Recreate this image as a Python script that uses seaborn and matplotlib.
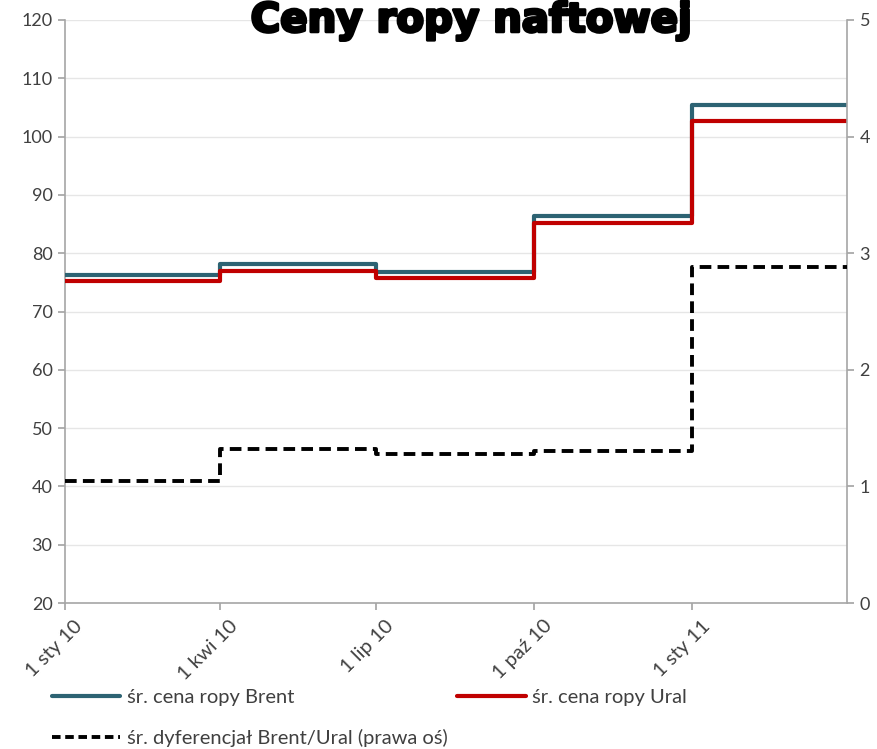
import matplotlib
matplotlib.use("Agg")
import matplotlib.pyplot as plt
import matplotlib.patheffects as pe
import matplotlib.transforms as mtrans
from matplotlib.lines import Line2D
import seaborn as sns
import pandas as pd
import numpy as np

quarters = ["2010-01-01", "2010-04-01", "2010-07-01", "2010-10-01", "2011-01-01", "2011-04-01"]
brent = [76.3, 78.2, 76.7, 86.4, 105.4, 105.4]
ural = [75.2, 77.0, 75.7, 85.2, 102.6, 102.6]
diff = [1.05, 1.32, 1.28, 1.30, 2.88, 2.88]
tick_labels = ["1 sty 10", "1 kwi 10", "1 lip 10", "1 paź 10", "1 sty 11"]

df = pd.DataFrame({"date": pd.to_datetime(quarters), "brent": brent, "ural": ural, "diff": diff})

sns.set_theme(style="white")
plt.rcParams["font.family"] = ["Lato", "DejaVu Sans"]

fig = plt.figure(figsize=(8.77, 7.49), dpi=100)
ax = fig.add_axes([65 / 877, 1 - 603 / 749, (847 - 65) / 877, (603 - 20) / 749])
ax2 = ax.twinx()

c_brent = "#2D6373"
c_ural = "#C00000"

sns.lineplot(data=df, x="date", y="brent", ax=ax, color=c_brent, lw=3, drawstyle="steps-post", zorder=3)
sns.lineplot(data=df, x="date", y="ural", ax=ax, color=c_ural, lw=3, drawstyle="steps-post", zorder=4)
sns.lineplot(data=df, x="date", y="diff", ax=ax2, color="black", lw=2.8, drawstyle="steps-post",
             linestyle=(0, (3, 1.6)), zorder=5)

ax.set_xlim(df["date"].iloc[0], df["date"].iloc[-1])
ax.set_ylim(20, 120)
ax.set_yticks(np.arange(20, 121, 10))
ax2.set_ylim(0, 5)
ax2.set_yticks(np.arange(0, 6, 1))

ax.set_xlabel("")
ax.set_ylabel("")
ax2.set_ylabel("")

ax.yaxis.grid(True, color="#E6E6E6", lw=1)
ax.set_axisbelow(True)

for a in (ax, ax2):
    for s in a.spines.values():
        s.set_visible(False)
ax.spines["left"].set_visible(True)
ax.spines["bottom"].set_visible(True)
ax2.spines["right"].set_visible(True)
for sp in (ax.spines["left"], ax.spines["bottom"], ax2.spines["right"]):
    sp.set_color("#A6A6A6")
    sp.set_linewidth(1.2)

ax.tick_params(axis="y", which="both", left=True, length=5, color="#A6A6A6", labelsize=13, labelcolor="#404040", pad=4)
ax.tick_params(axis="x", which="both", bottom=True, length=5, color="#A6A6A6", labelsize=14.5, labelcolor="#404040", pad=8)
ax2.tick_params(axis="y", right=True, length=5, color="#A6A6A6", labelsize=13, labelcolor="#404040", pad=4)

ax.set_xticks(df["date"].iloc[:5])
ax.set_xticklabels(tick_labels, rotation=45, ha="right", va="top", rotation_mode="anchor")
offset = mtrans.ScaledTranslation(9 / 100, 4 / 100, fig.dpi_scale_trans)
for tick in ax.xaxis.get_major_ticks():
    tick.label1.set_transform(tick.label1.get_transform() + offset)

fig.text(0.537, 0.999, "Ceny ropy naftowej", ha="center", va="top", fontsize=29,
         fontweight="heavy", family=["DejaVu Sans"], color="black",
         path_effects=[pe.withStroke(linewidth=2.2, foreground="black")])

handles = [
    Line2D([], [], color=c_brent, lw=3),
    Line2D([], [], color="black", lw=2.8, linestyle=(0, (2.2, 1.2))),
    Line2D([], [], color=c_ural, lw=3),
    Line2D([], [], color="none", lw=0),
]
labels = ["śr. cena ropy Brent", "śr. dyferencjał Brent/Ural (prawa oś)", "śr. cena ropy Ural", ""]
fig.legend(handles, labels, ncol=2, loc="upper left", bbox_to_anchor=(52 / 877, 1 - 689 / 749), frameon=False,
           fontsize=14.5, handlelength=3.4, handletextpad=0.3, columnspacing=0.5, labelspacing=1.15,
           borderaxespad=0, borderpad=0, labelcolor="#404040")

fig.savefig("out.png", dpi=100)
